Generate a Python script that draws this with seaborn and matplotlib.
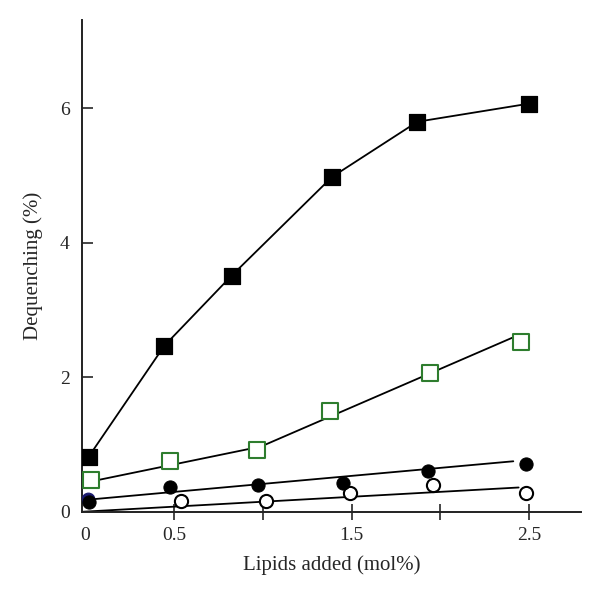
import numpy as np
import pandas as pd
import matplotlib
matplotlib.use('Agg')
import matplotlib.pyplot as plt
import seaborn as sns

# data
sq_filled_x = [0.02, 0.446, 0.824, 1.39, 1.87, 2.50]
sq_filled_y = [0.82, 2.47, 3.51, 4.98, 5.80, 6.07]

sq_open_x = [0.03, 0.48, 0.965, 1.376, 1.94, 2.455]
sq_open_y = [0.475, 0.75, 0.92, 1.50, 2.07, 2.53]
sq_open_fit_x = [0.07, 0.99, 2.45]
sq_open_fit_y = [0.47, 0.97, 2.64]

circ_filled_x = [0.02, 0.48, 0.974, 1.45, 1.93, 2.48]
circ_filled_y = [0.15, 0.36, 0.40, 0.43, 0.60, 0.71]
circ_filled_fit_x = [0.02, 2.41]
circ_filled_fit_y = [0.18, 0.75]

circ_open_x = [0.54, 1.015, 1.49, 1.96, 2.48]
circ_open_y = [0.16, 0.16, 0.28, 0.39, 0.28]
circ_open_fit_x = [-0.01, 2.44]
circ_open_fit_y = [0.0, 0.36]

# small dark-blue point hidden behind the first filled circle
blue_x = [0.015]
blue_y = [0.19]

green = '#2e7d2e'

sns.set_style('ticks')
plt.rcParams['font.family'] = ['Liberation Serif', 'DejaVu Serif']

fig = plt.figure(figsize=(6, 5.95), dpi=100)
ax = fig.add_axes([0.137, 0.14, 0.831, 0.826])

# lines
sns.lineplot(x=sq_filled_x, y=sq_filled_y, color='black', lw=1.3, ax=ax, zorder=2)
sns.lineplot(x=sq_open_fit_x, y=sq_open_fit_y, color='black', lw=1.3, ax=ax, zorder=2)
sns.lineplot(x=circ_filled_fit_x, y=circ_filled_fit_y, color='black', lw=1.3, ax=ax, zorder=2)
sns.lineplot(x=circ_open_fit_x, y=circ_open_fit_y, color='black', lw=1.3, ax=ax, zorder=2)

# markers
sns.scatterplot(x=blue_x, y=blue_y, marker='o', s=85, color='#1a1a6e',
                edgecolor='#1a1a6e', ax=ax, zorder=3)
sns.scatterplot(x=sq_filled_x, y=sq_filled_y, marker='s', s=120, color='black',
                edgecolor='black', ax=ax, zorder=3)
sns.scatterplot(x=sq_open_x, y=sq_open_y, marker='s', s=120, facecolor='white',
                edgecolor=green, linewidth=1.5, ax=ax, zorder=3)
sns.scatterplot(x=circ_filled_x, y=circ_filled_y, marker='o', s=90, color='black',
                edgecolor='black', ax=ax, zorder=4)
sns.scatterplot(x=circ_open_x, y=circ_open_y, marker='o', s=90, facecolor='white',
                edgecolor='black', linewidth=1.5, ax=ax, zorder=3)

ax.set_xlim(-0.017, 2.79)
ax.set_ylim(0, 7.31)
sns.despine(ax=ax)
for side in ['left', 'bottom']:
    ax.spines[side].set_linewidth(1.4)
    ax.spines[side].set_color('#222222')

ax.set_xticks([0, 0.5, 1, 1.5, 2, 2.5], labels=['0', '0.5', '', '1.5', '', '2.5'])
ax.set_yticks([0, 2, 4, 6], labels=['0', '2', '4', '6'])
ax.tick_params(axis='x', direction='inout', length=12, width=1.2, pad=5, labelsize=14)
ax.tick_params(axis='y', direction='in', length=8, width=1.2, pad=9, labelsize=14)
ax.xaxis.get_major_ticks()[0].tick1line.set_visible(False)
ax.yaxis.get_major_ticks()[0].tick1line.set_visible(False)

ax.set_xlabel('Lipids added (mol%)', fontsize=15, labelpad=8)
ax.set_ylabel('Dequenching (%)', fontsize=15, labelpad=12)

fig.savefig('out.png', dpi=100)
